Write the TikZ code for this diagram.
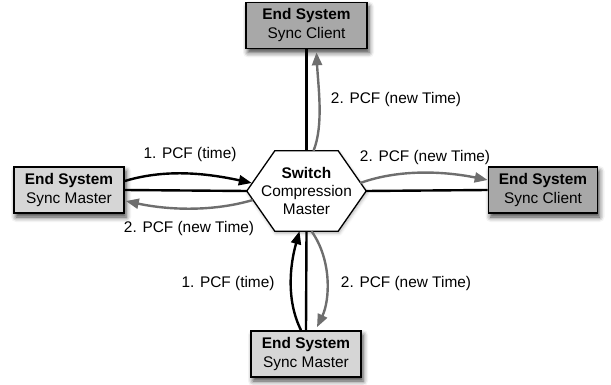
\documentclass[tikz,border=0pt]{standalone}
\usepackage{fontspec}
\setmainfont{Liberation Sans}
\usetikzlibrary{arrows.meta,shadows.blur,calc,backgrounds}
\definecolor{darkbox}{HTML}{A8A8A8}
\definecolor{lightbox}{HTML}{D6D6D6}
\definecolor{msggray}{HTML}{6E6E6E}
\tikzset{
  esbox/.style={draw=black, line width=1.6pt, minimum height=46pt, align=center,
    inner sep=0pt, font=\fontsize{15.4}{19}\selectfont,
    blur shadow={shadow xshift=2pt, shadow yshift=-4pt, shadow blur radius=5pt, shadow opacity=75}},
  clientbox/.style={esbox, fill=darkbox},
  masterbox/.style={esbox, fill=lightbox},
  hexline/.style={draw=black, line width=1.3pt, fill=white, line join=miter,
    blur shadow={shadow xshift=1pt, shadow yshift=-2pt, shadow blur radius=3pt, shadow opacity=30}},
  link/.style={line width=2.4pt, black},
  msgblack/.style={line width=2.4pt, black, -{Triangle[length=13pt,width=10pt]}},
  msggrey/.style={line width=2.4pt, msggray, -{Triangle[length=13pt,width=10pt]}},
  lbl/.style={font=\fontsize{15.4}{19}\selectfont, inner sep=1pt}
}
\begin{document}
\begin{tikzpicture}[x=1pt,y=-1pt]
\useasboundingbox (0,0) rectangle (611,385);
% nodes
\node[clientbox, minimum width=121pt] (tc) at (306.5,25.5) {\textbf{End System}\\Sync Client};
\node[masterbox, minimum width=110pt] (lm) at (69,190) {\textbf{End System}\\Sync Master};
\node[clientbox, minimum width=109pt] (rc) at (543,190) {\textbf{End System}\\Sync Client};
\node[masterbox, minimum width=110pt] (bm) at (306,354) {\textbf{End System}\\Sync Master};
\node[minimum width=119pt, minimum height=80pt, inner sep=0pt, align=center,
  font=\fontsize{15.4}{18}\selectfont] (sw) at (306.5,191) {\textbf{Switch}\\Compression\\Master};
\begin{scope}[on background layer]
\path[hexline] (sw.west) -- ($(sw.north west)+(28,0)$) -- ($(sw.north east)+(-28,0)$)
  -- (sw.east) -- ($(sw.south east)+(-28,0)$) -- ($(sw.south west)+(28,0)$) -- cycle;
\end{scope}
% links
\draw[link] (tc.south) -- (sw.north);
\draw[link] (sw.south) -- (bm.north);
\draw[link] (lm.east) -- (sw.west);
\draw[link] (sw.east) -- (rc.west);
% messages
\draw[msgblack] ($(lm.east)+(0,-9)$) .. controls (168,168) and (210,174) .. ($(sw.west)+(5,-8)$);
\draw[msggrey] ($(sw.west)+(6,9)$) .. controls (212,212) and (168,210) .. ($(lm.east)+(1,11)$);
\draw[msggrey] ($(sw.east)+(-6,-8)$) .. controls (402,168) and (448,172) .. ($(rc.west)+(0,-10)$);
\draw[msggrey] ($(sw.north)+(7,0)$) .. controls (324,125) and (318,85) .. ($(tc.south)+(10,3)$);
\draw[msgblack] ($(bm.north)+(-5,0)$) .. controls (286,300) and (290,265) .. ($(sw.south)+(-7,0)$);
\draw[msggrey] ($(sw.south)+(5,0)$) .. controls (332,260) and (330,300) .. ($(bm.north)+(11,-3)$);
% labels
\node[lbl] (l1) at (190,155) {1. PCF (time)};
\node[lbl] (l2) at (189,229) {2. PCF (new Time)};
\node[lbl] (l3) at (425,158) {2. PCF (new Time)};
\node[lbl] (l4) at (396,100) {2. PCF (new Time)};
\node[lbl] (l5) at (228,284) {1. PCF (time)};
\node[lbl] (l6) at (406,284) {2. PCF (new Time)};
\end{tikzpicture}
\end{document}
